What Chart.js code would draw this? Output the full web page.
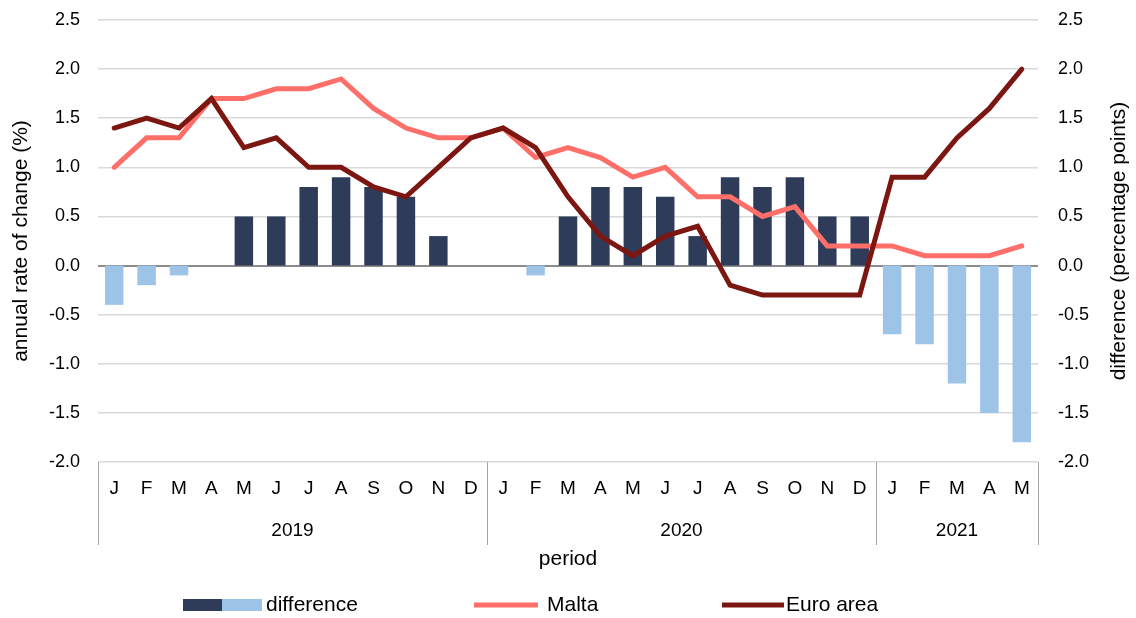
<!DOCTYPE html>
<html>
<head>
<meta charset="utf-8">
<script src="https://cdn.jsdelivr.net/npm/chart.js@4.4.1/dist/chart.umd.min.js"></script>
<style>
  html, body { margin: 0; padding: 0; background: #ffffff; }
  #wrap { width: 1136px; height: 618px; position: relative; }
</style>
</head>
<body>
<div id="wrap"><canvas id="c" width="1136" height="618"></canvas></div>
<script>
const months = ['J','F','M','A','M','J','J','A','S','O','N','D',
                'J','F','M','A','M','J','J','A','S','O','N','D',
                'J','F','M','A','M'];
const years = ['2019','2020','2021'];
const yearCounts = [12, 12, 5];
const malta = [1.0,1.3,1.3,1.7,1.7,1.8,1.8,1.9,1.6,1.4,1.3,1.3,
               1.4,1.1,1.2,1.1,0.9,1.0,0.7,0.7,0.5,0.6,0.2,0.2,
               0.2,0.1,0.1,0.1,0.2];
const euroArea = [1.4,1.5,1.4,1.7,1.2,1.3,1.0,1.0,0.8,0.7,1.0,1.3,
                  1.4,1.2,0.7,0.3,0.1,0.3,0.4,-0.2,-0.3,-0.3,-0.3,-0.3,
                  0.9,0.9,1.3,1.6,2.0];
const difference = [-0.4,-0.2,-0.1,0,0.5,0.5,0.8,0.9,0.8,0.7,0.3,0,
                    0,-0.1,0.5,0.8,0.8,0.7,0.3,0.9,0.8,0.9,0.5,0.5,
                    -0.7,-0.8,-1.2,-1.5,-1.8];
const yTicks = [-2.0,-1.5,-1.0,-0.5,0.0,0.5,1.0,1.5,2.0,2.5];

const FONT = "'Liberation Sans', Arial, sans-serif";
const POS = '#2e3c5a', NEG = '#9dc3e6', MALTA = '#ff6f69', EURO = '#7b1611';

const labels = months.map((m, i) => i);

const overlay = {
  id: 'overlay',
  afterDraw(chart) {
    const ctx = chart.ctx;
    const x = chart.scales.x;
    const area = chart.chartArea;
    const step = x.getPixelForValue(1) - x.getPixelForValue(0);
    ctx.save();
    ctx.fillStyle = '#000';
    ctx.font = '19px ' + FONT;
    ctx.textAlign = 'center';
    ctx.textBaseline = 'middle';
    months.forEach((m, i) => ctx.fillText(m, x.getPixelForValue(i), 489));
    ctx.strokeStyle = '#a6a6a6';
    ctx.lineWidth = 1;
    let start = 0;
    const drawSep = (px) => {
      ctx.beginPath();
      ctx.moveTo(Math.round(px) + 0.5, area.bottom);
      ctx.lineTo(Math.round(px) + 0.5, 545);
      ctx.stroke();
    };
    drawSep(x.getPixelForValue(0) - step / 2);
    years.forEach((y, k) => {
      const end = start + yearCounts[k] - 1;
      const l = x.getPixelForValue(start) - step / 2;
      const r = x.getPixelForValue(end) + step / 2;
      drawSep(r);
      ctx.fillText(y, (l + r) / 2, 531);
      start = end + 1;
    });
    ctx.font = '21px ' + FONT;
    ctx.fillText('period', (area.left + area.right) / 2, 559);
    ctx.save();
    ctx.translate(21, (area.top + area.bottom) / 2);
    ctx.rotate(-Math.PI / 2);
    ctx.fillText('annual rate of change (%)', 0, 0);
    ctx.restore();
    ctx.save();
    ctx.translate(1119, (area.top + area.bottom) / 2);
    ctx.rotate(-Math.PI / 2);
    ctx.fillText('difference (percentage points)', 0, 0);
    ctx.restore();
    const ly = 605;
    ctx.textAlign = 'left';
    ctx.fillStyle = POS;
    ctx.fillRect(183, ly - 6, 39, 12);
    ctx.fillStyle = NEG;
    ctx.fillRect(222, ly - 6, 40, 12);
    ctx.fillStyle = '#000';
    ctx.fillText('difference', 266, ly);
    ctx.fillStyle = MALTA;
    ctx.fillRect(474, ly - 2.5, 64, 5);
    ctx.fillStyle = '#000';
    ctx.fillText('Malta', 547, ly);
    ctx.fillStyle = EURO;
    ctx.fillRect(722, ly - 2.5, 62, 5);
    ctx.fillStyle = '#000';
    ctx.fillText('Euro area', 786, ly);
    ctx.restore();
  }
};

const fitY = s => { s.width = 98; s.paddingTop = 0; s.paddingBottom = 0; };

new Chart(document.getElementById('c'), {
  data: {
    labels: labels,
    datasets: [
      {
        type: 'line', label: 'Euro area', data: euroArea, order: 1,
        borderColor: EURO, borderWidth: 5, pointRadius: 0, tension: 0,
        borderCapStyle: 'round', borderJoinStyle: 'miter', yAxisID: 'y'
      },
      {
        type: 'line', label: 'Malta', data: malta, order: 2,
        borderColor: MALTA, borderWidth: 5, pointRadius: 0, tension: 0,
        borderCapStyle: 'round', borderJoinStyle: 'miter', yAxisID: 'y'
      },
      {
        type: 'bar', label: 'difference', data: difference, order: 3,
        backgroundColor: difference.map(v => v >= 0 ? POS : NEG),
        barPercentage: 0.57, categoryPercentage: 1.0, yAxisID: 'y1'
      }
    ]
  },
  options: {
    responsive: false,
    animation: false,
    events: [],
    layout: { padding: { top: 20, left: 0, right: 0, bottom: 0 } },
    plugins: { legend: { display: false }, tooltip: { enabled: false } },
    scales: {
      x: {
        type: 'category',
        grid: { display: false },
        border: { display: false },
        ticks: { display: false },
        afterFit: s => { s.height = 156; s.paddingLeft = 0; s.paddingRight = 0; }
      },
      y: {
        position: 'left', min: -2, max: 2.5,
        afterBuildTicks: s => { s.ticks = yTicks.map(v => ({ value: v })); },
        ticks: {
          callback: v => Number(v).toFixed(1),
          color: '#000', font: { family: FONT, size: 18 }, padding: 18
        },
        grid: {
          drawTicks: false,
          color: c => (c.tick && c.tick.value === 0) ? '#8c8c8c' : '#d9d9d9',
          lineWidth: c => (c.tick && c.tick.value === 0) ? 2 : 1.5
        },
        border: { display: false },
        afterFit: fitY
      },
      y1: {
        position: 'right', min: -2, max: 2.5,
        afterBuildTicks: s => { s.ticks = yTicks.map(v => ({ value: v })); },
        ticks: {
          callback: v => Number(v).toFixed(1),
          color: '#000', font: { family: FONT, size: 18 }, padding: 20
        },
        grid: { display: false, drawTicks: false },
        border: { display: false },
        afterFit: fitY
      }
    }
  },
  plugins: [overlay]
});
</script>
</body>
</html>
